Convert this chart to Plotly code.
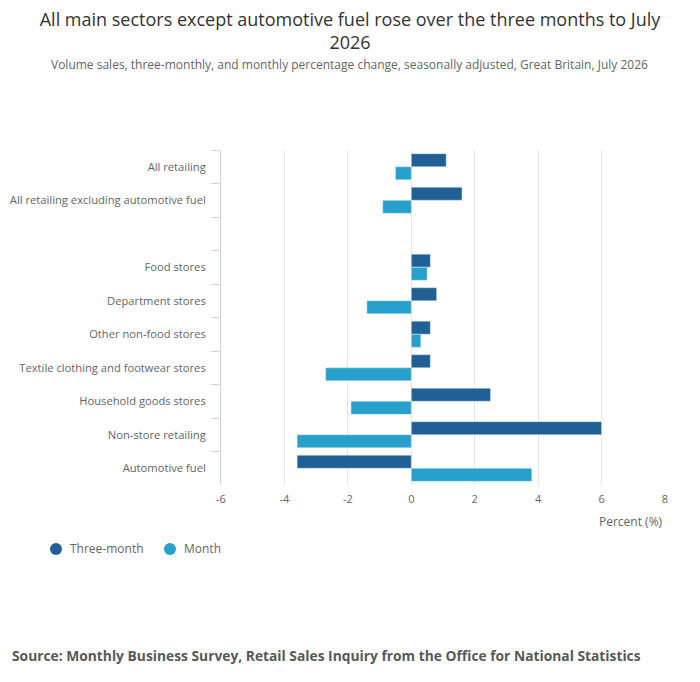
import plotly.graph_objects as go

# sectors, top to bottom (blank row separates the totals from the sectors)
sectors = ['All retailing', 'All retailing excluding automotive fuel', ' ',
           'Food stores', 'Department stores', 'Other non-food stores',
           'Textile clothing and footwear stores', 'Household goods stores',
           'Non-store retailing', 'Automotive fuel']
three_month = [1.1, 1.6, None, 0.6, 0.8, 0.6, 0.6, 2.5, 6.0, -3.6]
month = [-0.5, -0.9, None, 0.5, -1.4, 0.3, -2.7, -1.9, -3.6, 3.8]
x_ticks = [-6, -4, -2, 0, 2, 4, 6, 8]
x_labels = [str(v) for v in x_ticks]

dark = '#206095'
light = '#27a0cc'
font = 'Open Sans, Noto Sans, sans-serif'

fig = go.Figure()
fig.add_trace(go.Bar(y=sectors, x=three_month, orientation='h', name='Three-month',
                     marker_color=dark, showlegend=False))
fig.add_trace(go.Bar(y=sectors, x=month, orientation='h', name='Month',
                     marker_color=light, showlegend=False))

# page body adds an 8px margin, so the figure is sized to fit inside it
fig.update_layout(
    width=684, height=666,
    margin=dict(l=213, r=27, t=142, b=189),
    paper_bgcolor='white', plot_bgcolor='white',
    font=dict(family=font, color='#666666'),
    barmode='group', bargap=0.22, bargroupgap=0,
    showlegend=False,
    title=dict(text='All main sectors except automotive fuel rose over the three months to July<br>2026',
               x=0.5, xanchor='center', yref='container', y=1 - 18 / 666, yanchor='middle',
               font=dict(size=18, color='#333333')),
)

fig.update_xaxes(range=[-6, 8], tickvals=x_ticks, ticktext=x_labels, showgrid=True,
                 gridcolor='#e6e6e6', gridwidth=1, zeroline=False, showline=False,
                 tickfont=dict(size=11, color='#666666'), ticks='', ticklabelstandoff=6)
fig.update_yaxes(categoryorder='array', categoryarray=sectors, autorange='reversed',
                 showline=True, linecolor='#ccd6eb', linewidth=1,
                 ticks='outside', tickson='boundaries', ticklen=9, tickcolor='#ccd6eb',
                 showgrid=False, tickfont=dict(size=11.2, color='#666666'),
                 ticklabelstandoff=12, automargin=False)

# legend drawn as round keys with labels, placed like the original
legend_items = [('Three-month', dark, -0.3716, -0.3446), ('Month', light, -0.1149, -0.0878)]
for nm, col, cx, tx in legend_items:
    fig.add_shape(type='circle', xref='paper', yref='paper', xsizemode='pixel', ysizemode='pixel',
                  xanchor=cx, yanchor=-0.191, x0=-6, x1=6, y0=-6, y1=6,
                  fillcolor=col, line=dict(width=0))
    fig.add_annotation(text=nm, xref='paper', yref='paper', x=tx, xanchor='left',
                       y=-0.191, yanchor='middle', showarrow=False,
                       font=dict(size=12, color='#666666'))

fig.add_annotation(text='Volume sales, three-monthly, and monthly percentage change, seasonally adjusted, Great Britain, July 2026',
                   xref='paper', yref='paper', x=0.2905, xanchor='center', y=1.2567, yanchor='middle',
                   showarrow=False, font=dict(size=12, color='#666666'))
fig.add_annotation(text='Percent (%)', xref='paper', yref='paper', x=1, xanchor='right',
                   y=-0.1075, yanchor='middle', showarrow=False,
                   font=dict(size=12, color='#666666'))
fig.add_annotation(text='<b>Source: Monthly Business Survey, Retail Sales Inquiry from the Office for National Statistics</b>',
                   xref='paper', yref='paper', x=-0.4752, xanchor='left', y=-0.5075, yanchor='middle',
                   showarrow=False, font=dict(size=13.8, color='#595959'))

fig.write_html('out.html')
